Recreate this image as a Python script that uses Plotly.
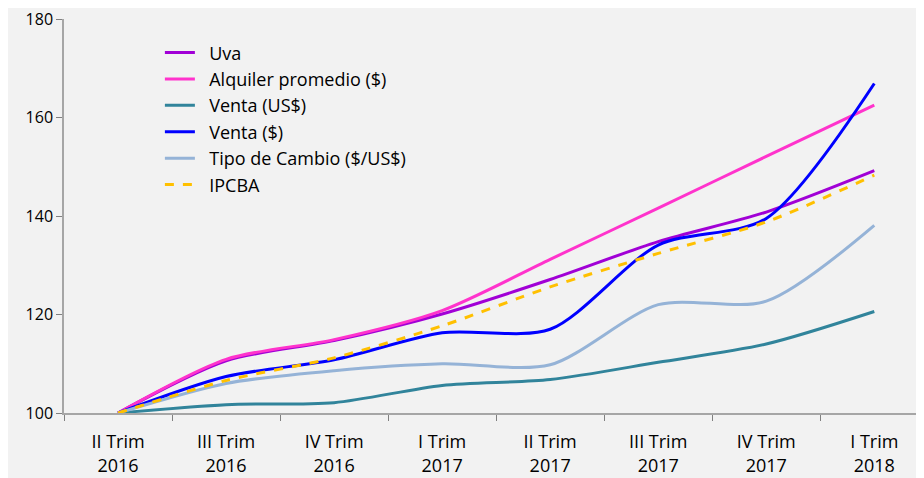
import plotly.graph_objects as go

categories = ["II Trim<br>2016", "III Trim<br>2016", "IV Trim<br>2016", "I Trim<br>2017",
              "II Trim<br>2017", "III Trim<br>2017", "IV Trim<br>2017", "I Trim<br>2018"]

uva = [100, 110.6, 114.7, 120.1, 127.1, 134.8, 140.8, 149.2]
alquiler = [100, 110.9, 114.9, 120.8, 131.2, 141.6, 152.1, 162.5]
venta_usd = [100, 101.7, 102.1, 105.6, 106.8, 110.3, 114.0, 120.6]
venta_ars = [100, 107.4, 110.8, 116.3, 117.0, 134.1, 139.5, 166.9]
tipo_cambio = [100, 106.0, 108.6, 110.0, 109.8, 122.0, 122.7, 138.1]
ipcba = [100, 106.6, 111.2, 117.7, 125.6, 132.4, 138.8, 148.3]

y_ticks = [100, 120, 140, 160, 180]

series = [
    ("Uva", uva, "#A100D6", "solid"),
    ("Alquiler promedio ($)", alquiler, "#FF33CC", "solid"),
    ("Venta (US$)", venta_usd, "#31849B", "solid"),
    ("Venta ($)", venta_ars, "#0000FF", "solid"),
    ("Tipo de Cambio ($/US$)", tipo_cambio, "#95B3D7", "solid"),
    ("IPCBA", ipcba, "#FFC000", "dash"),
]

fig = go.Figure()
for name, vals, color, dash in series:
    fig.add_trace(go.Scatter(
        x=categories, y=vals, name="\u00a0\u00a0" + name, mode="lines",
        line=dict(color=color, width=3, dash=dash, shape="spline", smoothing=0.8),
    ))

font = "Open Sans"
fig.update_layout(
    width=916, height=470,
    margin=dict(l=56, r=0, t=7, b=65),
    paper_bgcolor="#F2F2F2", plot_bgcolor="#F2F2F2",
    font=dict(family=font, size=17, color="#000000"),
    showlegend=True,
    legend=dict(x=0.1115, y=0.961, xanchor="left", yanchor="top",
                bgcolor="rgba(0,0,0,0)", font=dict(size=18, family=font),
                tracegroupgap=0),
    xaxis=dict(
        type="category", tickson="boundaries",
        range=[-0.5, 7.46], showgrid=False, zeroline=False,
        showline=True, linecolor="#A6A6A6", linewidth=1.5,
        ticks="outside", ticklen=6, tickcolor="#808080",
        tickfont=dict(size=18, family=font), ticklabelstandoff=12,
    ),
    yaxis=dict(
        range=[100, 180], tickvals=y_ticks, showgrid=False, zeroline=False,
        showline=True, linecolor="#A6A6A6", linewidth=1.5,
        ticks="outside", ticklen=6, tickcolor="#808080",
        tickfont=dict(size=16, family=font), ticklabeloverflow="allow",
    ),
)

fig.write_html("out.html")
